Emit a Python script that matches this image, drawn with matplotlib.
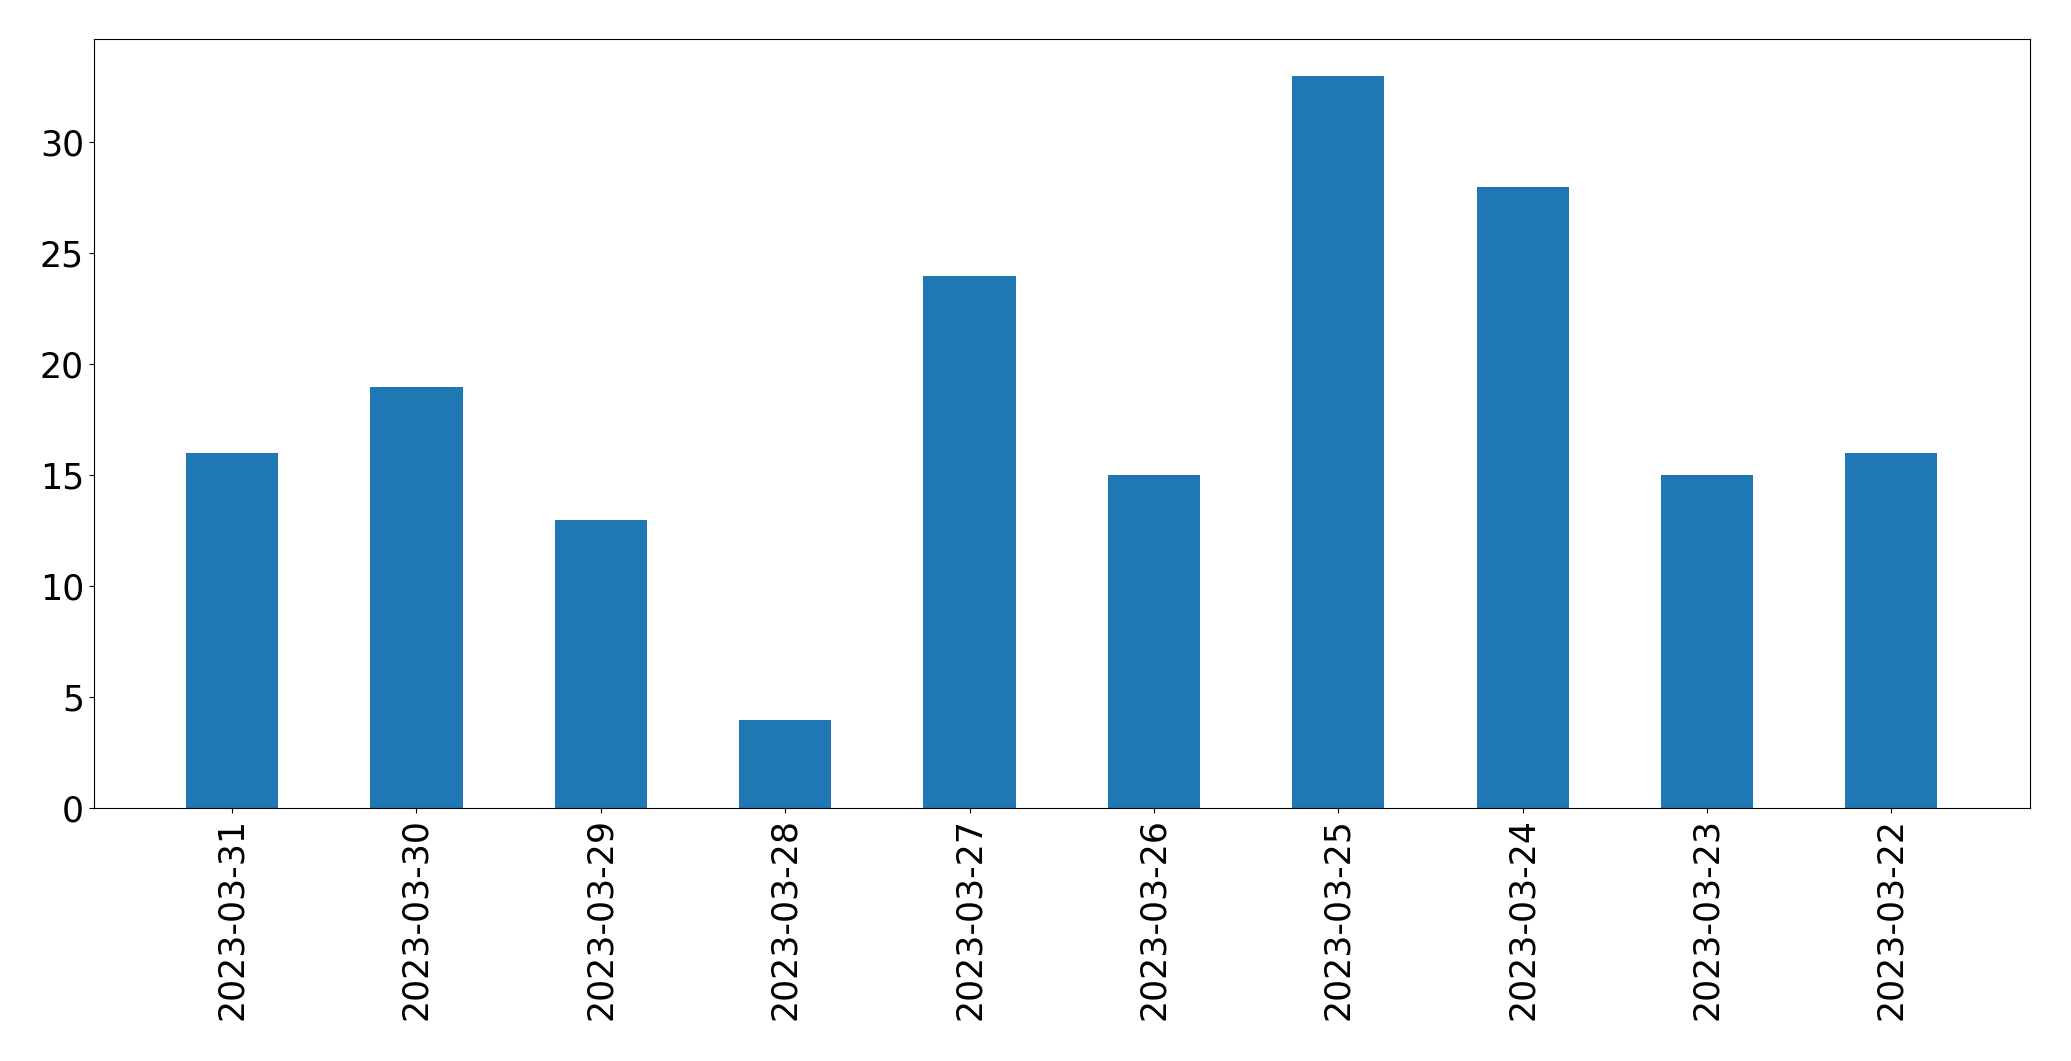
import matplotlib
matplotlib.use("Agg")
import matplotlib.pyplot as plt

dates = ["2023-03-31","2023-03-30","2023-03-29","2023-03-28","2023-03-27",
         "2023-03-26","2023-03-25","2023-03-24","2023-03-23","2023-03-22"]
counts = [16, 19, 13, 4, 24, 15, 33, 28, 15, 16]

fig = plt.figure(figsize=(20.71, 10.61), dpi=100)
ax = fig.add_axes([0.0453, 0.238, 0.9347, 0.725])
x = range(len(dates))
ax.bar(x, counts, width=0.5, color="#1f77b4")
ax.set_xticks(list(x))
ax.set_xticklabels(dates, rotation=90)
ax.set_xlim(-0.25 - 0.5, len(dates) - 0.25)
ax.set_ylim(0, 34.65)
ax.tick_params(labelsize=25)
fig.savefig("out.png", dpi=100)
